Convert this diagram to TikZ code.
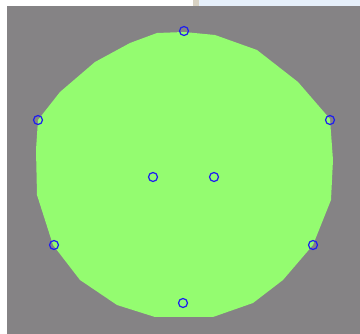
\documentclass[tikz,border=0pt]{standalone}
\usepackage{tikz}
\usepackage{xcolor}
\definecolor{panel}{HTML}{858385}
\definecolor{scalp}{HTML}{94FC70}
\definecolor{electrode}{HTML}{1E1EF0}
\definecolor{tabbar}{HTML}{E6EFFA}
\definecolor{tabsep}{HTML}{D8D2C4}

\begin{document}
\begin{tikzpicture}[
  x=1pt,y=-1pt,
  elec/.style={draw=electrode,circle,line width=1.2pt,inner sep=0pt,minimum size=9pt},
]
  \useasboundingbox (0,0) rectangle (360,334);
  % window background
  \fill[white] (0,0) rectangle (360,334);
  \fill[tabsep] (193,0) rectangle (199,6);
  \fill[tabbar] (199,0) rectangle (360,6);
  \fill[panel] (7,6) rectangle (360,334);

  % head outline
  \fill[scalp] (184,32) -- (215,35) -- (257,50) -- (298,82) -- (330,119) -- (333,160)
    -- (331,200) -- (313,245) -- (283,280) -- (253,303) -- (213,317) -- (155,317)
    -- (117,305) -- (80,280) -- (53,245) -- (37,195) -- (36,150) -- (38,120)
    -- (60,92) -- (95,62) -- (130,43) -- (157,33) -- cycle;

  % electrodes
  \node[elec] (top) at (184,31) {};
  \node[elec] (left) at (38,120) {};
  \node[elec] (right) at (330,120) {};
  \node[elec] (cl) at (153,177) {};
  \node[elec] (cr) at (214,177) {};
  \node[elec] (lowleft) at (54,245) {};
  \node[elec] (lowright) at (313,245) {};
  \node[elec] (bottom) at (183,303) {};
\end{tikzpicture}
\end{document}
